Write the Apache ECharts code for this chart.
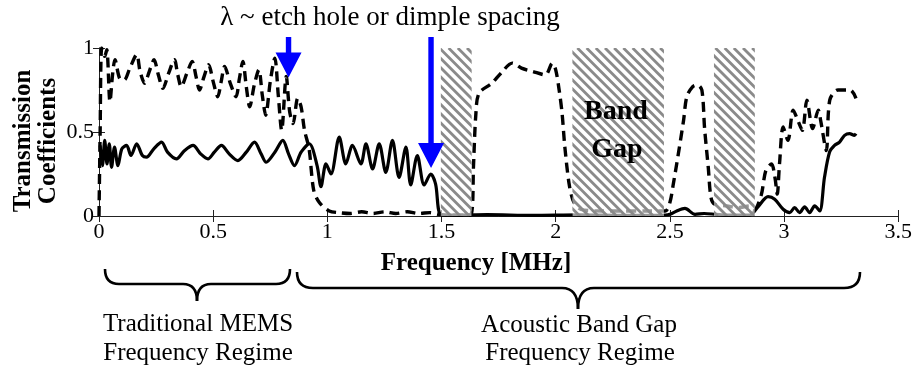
<!DOCTYPE html>
<html>
<head>
<meta charset="utf-8">
<script src="https://cdn.jsdelivr.net/npm/echarts@6/dist/echarts.min.js"></script>
<style>
html,body{margin:0;padding:0;background:#fff;}
#chart{width:915px;height:371px;}
</style>
</head>
<body>
<div id="chart"></div>
<script>
// ---- data ----
const xTicks = [0, 0.5, 1, 1.5, 2, 2.5, 3, 3.5];
const yTicks = [0, 0.5, 1];

const freqSolid = [0.005,0.015,0.025,0.035,0.045,0.055,0.068,0.083,0.10,0.121,0.14,0.165,0.19,0.208,0.24,0.274,0.30,0.339,0.375,0.412,0.445,0.477,0.505,0.536,0.57,0.608,0.645,0.681,0.71,0.732,0.77,0.805,0.83,0.856,0.885,0.921,0.955,0.972,0.994,1.016,1.052,1.081,1.11,1.147,1.169,1.198,1.227,1.256,1.285,1.314,1.344,1.365,1.394,1.424,1.453,1.474,1.496,1.55,1.7,1.9,2.1,2.3,2.48,2.5,2.53,2.566,2.61,2.65,2.70,2.75,2.85,2.886,2.93,2.959,2.996,3.025,3.046,3.068,3.09,3.112,3.134,3.156,3.177,3.199,3.221,3.243,3.265,3.287,3.308,3.315];
const transSolid = [0.42,0.30,0.45,0.31,0.43,0.29,0.41,0.30,0.40,0.42,0.36,0.43,0.36,0.35,0.40,0.44,0.38,0.34,0.39,0.42,0.37,0.34,0.38,0.42,0.37,0.33,0.38,0.44,0.37,0.32,0.38,0.45,0.37,0.30,0.38,0.43,0.30,0.175,0.31,0.25,0.47,0.31,0.42,0.31,0.43,0.28,0.43,0.26,0.45,0.23,0.41,0.185,0.36,0.185,0.25,0.19,0.01,0.005,0.008,0.004,0.007,0.004,0.006,0.01,0.03,0.045,0.01,0.015,0.01,0.005,0.005,0.055,0.115,0.10,0.04,0.02,0.05,0.02,0.055,0.02,0.06,0.03,0.23,0.38,0.42,0.44,0.48,0.49,0.48,0.49];

const freqDashed = [0.000,0.005,0.012,0.025,0.034,0.048,0.06,0.07,0.09,0.11,0.135,0.165,0.18,0.2,0.22,0.241,0.26,0.28,0.305,0.33,0.345,0.36,0.385,0.408,0.425,0.44,0.46,0.48,0.50,0.52,0.535,0.55,0.575,0.60,0.615,0.63,0.645,0.66,0.68,0.70,0.715,0.73,0.75,0.77,0.785,0.80,0.82,0.835,0.85,0.87,0.885,0.90,0.92,0.94,0.965,1.008,1.05,1.10,1.15,1.20,1.25,1.30,1.35,1.40,1.45,1.488,1.52,1.60,1.63,1.64,1.65,1.664,1.72,1.76,1.81,1.85,1.90,1.955,1.985,2.0,2.015,2.028,2.04,2.06,2.08,2.11,2.2,2.3,2.4,2.48,2.5,2.515,2.537,2.56,2.574,2.60,2.62,2.64,2.652,2.668,2.68,2.697,2.75,2.80,2.85,2.87,2.90,2.92,2.945,2.96,2.97,2.98,2.996,3.017,3.04,3.06,3.08,3.10,3.125,3.15,3.16,3.185,3.20,3.236,3.29,3.315];
const transDashed = [0.0,0.5,1.0,0.95,0.99,0.68,0.85,0.93,0.82,0.81,0.88,0.96,0.86,0.79,0.86,0.93,0.84,0.76,0.85,0.93,0.84,0.77,0.85,0.92,0.83,0.75,0.83,0.90,0.80,0.71,0.80,0.89,0.79,0.71,0.82,0.92,0.77,0.65,0.78,0.87,0.72,0.60,0.80,0.94,0.72,0.51,0.83,0.62,0.55,0.70,0.65,0.51,0.40,0.155,0.08,0.03,0.02,0.015,0.025,0.015,0.025,0.015,0.025,0.015,0.02,0.01,0.005,0.005,0.01,0.3,0.6,0.73,0.79,0.85,0.91,0.88,0.86,0.84,0.91,0.87,0.75,0.61,0.41,0.18,0.08,0.04,0.03,0.03,0.03,0.03,0.08,0.19,0.37,0.57,0.71,0.77,0.78,0.75,0.52,0.29,0.11,0.07,0.06,0.05,0.06,0.04,0.125,0.27,0.31,0.23,0.13,0.31,0.53,0.45,0.63,0.57,0.51,0.69,0.52,0.63,0.57,0.39,0.69,0.75,0.75,0.70];

const bandGapStart = [1.497, 2.073, 2.693];
const bandGapEnd   = [1.632, 2.474, 2.872];

// arrow targets [freq, coefficient]
const arrowTargets = [[0.83, 0.825], [1.454, 0.286]];

// ---- helpers ----
function zip(xs, ys){ return xs.map((x,i)=>[x, ys[i]]); }
const serif = '"Liberation Serif", "Times New Roman", serif';

const chart = echarts.init(document.getElementById('chart'), null, {renderer:'canvas'});

const axisLine = {show:true, lineStyle:{color:'#222', width:1}};
const option = {
  animation:false,
  backgroundColor:'#fff',
  grid:{left:99, right:14, top:48, bottom:155, containLabel:false},
  xAxis:[{
    type:'value', min:0, max:3.5, interval:0.5, position:'bottom',
    axisLine:axisLine, axisTick:{show:true, inside:true, length:6, lineStyle:{color:'#222'}},
    axisLabel:{color:'#000', fontFamily:serif, fontSize:22, margin:5},
    splitLine:{show:false}
  },{
    type:'value', min:0, max:3.5, interval:0.5, position:'top',
    axisLine:axisLine, axisTick:{show:true, inside:true, length:6, lineStyle:{color:'#222'}},
    axisLabel:{show:false}, splitLine:{show:false}
  }],
  yAxis:[{
    type:'value', min:0, max:1, interval:0.5, position:'left',
    axisLine:axisLine, axisTick:{show:true, inside:true, length:6, lineStyle:{color:'#222'}},
    axisLabel:{color:'#000', fontFamily:serif, fontSize:22, margin:5,
      formatter:(v)=> String(v)},
    splitLine:{show:false}
  },{
    type:'value', min:0, max:1, interval:0.5, position:'right',
    axisLine:axisLine, axisTick:{show:true, inside:true, length:6, lineStyle:{color:'#222'}},
    axisLabel:{show:false}, splitLine:{show:false}
  }],
  series:[{
    name:'solid', type:'line', data:zip(freqSolid, transSolid), showSymbol:false, smooth:0.3,
    lineStyle:{color:'#000', width:3.2}, z:3, clip:true
  },{
    name:'dashed', type:'line', data:zip(freqDashed, transDashed), showSymbol:false, smooth:0.3,
    lineStyle:{color:'#000', width:3.4, type:[10,6]}, z:3, clip:true
  },{
    name:'bandgap', type:'custom', z:10, silent:true,
    data: bandGapStart.map((s,i)=>[s, bandGapEnd[i]]),
    encode:{x:[0,1]},
    renderItem:(params, api)=>{
      const a = api.coord([api.value(0), 1]);
      const b = api.coord([api.value(1), 0]);
      const shape = {x:a[0], y:a[1], width:b[0]-a[0], height:b[1]-a[1]};
      const h = shape.height, period = 9.2;
      const children = [{type:'rect', shape:shape, style:{fill:'#ffffff', opacity:0.6}}];
      // diagonal stripes anchored to the plot's left edge so all bands share phase
      const origin = api.coord([0, 0])[0];
      let k = Math.floor((shape.x - h - origin) / period);
      for (let x0 = origin + k*period; x0 <= shape.x + shape.width; x0 += period) {
        children.push({type:'line', shape:{x1:x0, y1:shape.y, x2:x0 + h, y2:shape.y + h},
          style:{stroke:'#8a8a8a', lineWidth:2.8}});
      }
      return {type:'group', children:children,
        clipPath:{type:'rect', shape:shape}};
    }
  }]
};
chart.setOption(option);

// ---- annotations ----
function arrow(target){
  const t = chart.convertToPixel({gridIndex:0}, target);
  const x = t[0], tipY = t[1], topY = 37;
  const sw = 2.7, hw = 13, hl = 25;
  return {type:'polygon', z:20, silent:true,
    shape:{points:[[x-sw,topY],[x+sw,topY],[x+sw,tipY-hl],[x+hw,tipY-hl],[x,tipY],[x-hw,tipY-hl],[x-sw,tipY-hl]]},
    style:{fill:'#0000ff'}};
}
function brace(x1, x2, xm, yTop, yMid, yTip, r){
  const st = {stroke:'#000', lineWidth:2.6, fill:null};
  return [
    {type:'bezierCurve', shape:{x1:x1,y1:yTop,cpx1:x1,cpy1:yMid,x2:x1+r,y2:yMid}, style:st},
    {type:'line', shape:{x1:x1+r,y1:yMid,x2:xm-r,y2:yMid}, style:st},
    {type:'bezierCurve', shape:{x1:xm-r,y1:yMid,cpx1:xm,cpy1:yMid,x2:xm,y2:yTip}, style:st},
    {type:'bezierCurve', shape:{x1:xm,y1:yTip,cpx1:xm,cpy1:yMid,x2:xm+r,y2:yMid}, style:st},
    {type:'line', shape:{x1:xm+r,y1:yMid,x2:x2-r,y2:yMid}, style:st},
    {type:'bezierCurve', shape:{x1:x2-r,y1:yMid,cpx1:x2,cpy1:yMid,x2:x2,y2:yTop}, style:st}
  ];
}
function txt(text, x, y, size, bold, extra){
  return Object.assign({type:'text', z:30, silent:true, x:x, y:y,
    style:{text:text, fill:'#000', font:(bold?'bold ':'')+size+'px '+serif,
      textAlign:'center', textVerticalAlign:'middle'}}, extra||{});
}

const graphics = [
  arrow(arrowTargets[0]),
  arrow(arrowTargets[1]),
  txt('λ ~ etch hole or dimple spacing', 390, 18, 27, false),
  txt('Band', 616, 112, 28, true),
  txt('Gap', 617, 150, 28, true),
  txt('Frequency [MHz]', 476, 264, 25, true),
  txt('Transmission\nCoefficients', 36, 141, 25, true, {rotation:Math.PI/2}),
  txt('Traditional MEMS', 198, 324, 25, false),
  txt('Frequency Regime', 198, 353, 25, false),
  txt('Acoustic Band Gap', 579, 325, 25, false),
  txt('Frequency Regime', 580, 353, 25, false)
].concat(brace(105, 290, 197, 269, 284, 301, 14))
 .concat(brace(297, 860, 578, 272, 288, 309, 16));

chart.setOption({graphic:{elements:graphics}});
</script>
</body>
</html>
